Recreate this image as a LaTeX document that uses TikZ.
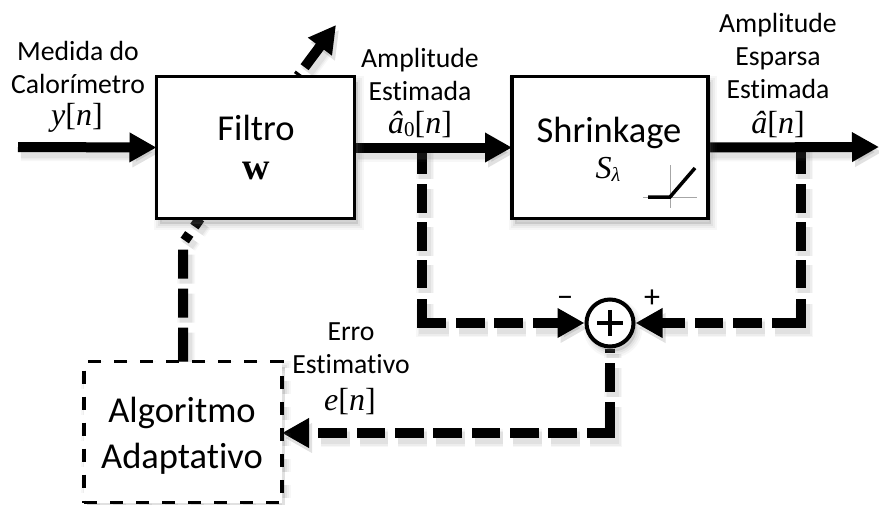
\documentclass[tikz,border=0pt]{standalone}
\usepackage{fontspec}
\setmainfont[Ligatures=NoCommon]{Carlito}
\newfontfamily\mathserif{Liberation Serif}
\usetikzlibrary{arrows.meta,backgrounds}
\newcommand{\mv}[1]{{\mathserif\itshape #1}}
\newcommand{\br}[1]{{\mathserif [\mv{#1}]}}
\tikzset{
  flowtip/.style={-{Triangle[length=27pt,width=28pt]}},
  softline/.style={
    preaction={draw=black!60,opacity=.05,line width=18pt,#1,transform canvas={shift={(3pt,-5pt)}}},
    preaction={draw=black!60,opacity=.07,line width=15pt,#1,transform canvas={shift={(3pt,-5pt)}}},
    preaction={draw=black!60,opacity=.09,line width=12pt,#1,transform canvas={shift={(3pt,-5pt)}}}},
  softbox/.style={
    preaction={draw=black!60,fill=black!60,opacity=.05,line width=12pt,transform canvas={shift={(3pt,-5pt)}}},
    preaction={draw=black!60,fill=black!60,opacity=.07,line width=8pt,transform canvas={shift={(3pt,-5pt)}}},
    preaction={draw=black!60,fill=black!60,opacity=.09,line width=4pt,transform canvas={shift={(3pt,-5pt)}}}},
  % a flow line: #1 is the dash pattern
  solidflow/.style={draw=black,line width=10pt,flowtip,softline={solid,flowtip}},
  dashflow/.style={draw=black,line width=10pt,dash pattern=#1,flowtip,softline={dash pattern=#1,flowtip}},
  feedback/.style={draw=black,line width=10pt,dash pattern=#1,softline={dash pattern=#1}},
  blockbox/.style={draw=black,fill=white,line width=3.6pt,outer sep=0pt,inner sep=0pt,softbox},
  algobox/.style={draw=black,fill=white,line width=3.4pt,dash pattern=on 13pt off 13pt,outer sep=0pt,inner sep=0pt,softbox},
  sumcircle/.style={circle,draw=black,fill=white,line width=4pt,minimum size=47pt,inner sep=0pt,softbox},
  lab/.style={anchor=base,inner sep=0pt,font=\fontsize{27.7pt}{27.7pt}\selectfont},
  maths/.style={anchor=base,inner sep=0pt,font=\fontsize{32pt}{32pt}\selectfont},
  bigtext/.style={anchor=base,inner sep=0pt,font=\fontsize{36.5pt}{36.5pt}\selectfont},
  signtext/.style={anchor=base,inner sep=0pt,font=\fontsize{32pt}{32pt}\selectfont}
}
\begin{document}
\begin{tikzpicture}[x=1pt,y=-1pt]
\useasboundingbox (0,0) rectangle (879,504);
% free ends and branch points
\coordinate (inp) at (18,147);
\coordinate (outp) at (879,147);
\coordinate (b1) at (422,147);
\coordinate (b1c) at (422,323);
\coordinate (b2) at (801,147);
\coordinate (b2c) at (801,323);
\coordinate (sc) at (610,433);
\coordinate (fb1) at (183,243);
\coordinate (fb2) at (200,218.5);
\coordinate (atip) at (336,25);
\coordinate (atail) at (298,76);
% blocks
\node[blockbox,minimum width=198pt,minimum height=142pt] (filtro) at (255.5,147.5) {};
\node[blockbox,minimum width=196pt,minimum height=142pt] (shrink) at (610,147.5) {};
\node[algobox,minimum width=198pt,minimum height=141pt] (algo) at (183,432) {};
\node[sumcircle] (soma) at (610,323) {};
\coordinate (pl) at ([xshift=-13pt]soma.center);
\coordinate (pr) at ([xshift=13pt]soma.center);
\coordinate (pu) at ([yshift=-13pt]soma.center);
\coordinate (pd) at ([yshift=13pt]soma.center);
\draw[line width=4pt] (pl) -- (pr);
\draw[line width=4pt] (pu) -- (pd);
% connectors lie under the blocks
\begin{pgfonlayer}{background}
\draw[dashflow={on 27pt off 10pt on 29pt off 9pt on 29pt off 9pt on 28pt off 11pt on 48pt off 10pt on 29pt off 9pt on 29pt off 10pt on 100pt off 0pt}] (b1) -- (b1c) -- (soma.west);
\draw[dashflow={on 27pt off 10pt on 29pt off 9pt on 29pt off 9pt on 28pt off 11pt on 53pt off 10pt on 29pt off 10pt on 28pt off 10pt on 100pt off 0pt}] (b2) -- (b2c) -- (soma.east);
\draw[dashflow={on 4.5pt off 10pt on 29pt off 10pt on 54pt off 10pt on 29pt off 9pt on 29pt off 10pt on 28pt off 10pt on 29pt off 9pt on 29pt off 10pt on 28pt off 10pt on 29pt off 100pt}] (soma.south) -- (soma.south |- sc) -- (algo.east |- sc);
\draw[feedback={on 34pt off 10pt on 29pt off 10pt on 29pt off 9.5pt on 8pt off 9pt on 30pt off 0pt}] (algo.north) -- (fb1) -- (fb2);
\draw[dashflow={on 3pt off 8pt on 60pt off 0pt}] (atail) -- (atip);
\draw[solidflow] (inp) -- (filtro.west);
\draw[solidflow] (filtro.east) -- (shrink.west);
\draw[solidflow] (shrink.east) -- (outp);
\end{pgfonlayer}
% shrinkage curve
\draw[gray!70,line width=1pt] (643,197) -- (697,197);
\draw[gray!70,line width=1pt] (670,165) -- (670,208);
\draw[black,line width=3.5pt] (648,197) -- (670,197) -- (695,168);
% texts
\node[lab] (t1) at (78,60) {Medida do};
\node[lab] (t2) at (78,93) {Calorímetro};
\node[maths] (t3) at (77,125) {\mv{y}\br{n}};
\node[lab] (t4) at (420,67) {Amplitude};
\node[lab] (t5) at (420,100) {Estimada};
\node[maths] (t6) at (420,133) {\mv{â}{\raisebox{-3pt}{\fontsize{21pt}{21pt}\selectfont\mathserif 0}}\br{n}};
\node[lab] (t7) at (778,32) {Amplitude};
\node[lab] (t8) at (778,65) {Esparsa};
\node[lab] (t9) at (778,98) {Estimada};
\node[maths] (t10) at (778,133) {\mv{â}\br{n}};
\node[bigtext] (t11) at (256,140) {Filtro};
\node[maths,font=\fontsize{38pt}{38pt}\selectfont] (t12) at (256,179) {{\mathserif\bfseries w}};
\node[bigtext] (t13) at (609,142) {Shrinkage};
\node[maths] (t14) at (608,178) {\mv{S}{\raisebox{-3pt}{\fontsize{20pt}{20pt}\selectfont\mv{λ}}}};
\node[lab] (t15) at (351,340) {Erro};
\node[lab] (t16) at (351,373) {Estimativo};
\node[maths] (t17) at (350,410) {\mv{e}\br{n}};
\node[bigtext] (t18) at (182,422) {Algoritmo};
\node[bigtext] (t19) at (182,468) {Adaptativo};
\node[signtext] (t20) at (565,307) {−};
\node[signtext] (t21) at (652,307) {+};
\end{tikzpicture}
\end{document}
